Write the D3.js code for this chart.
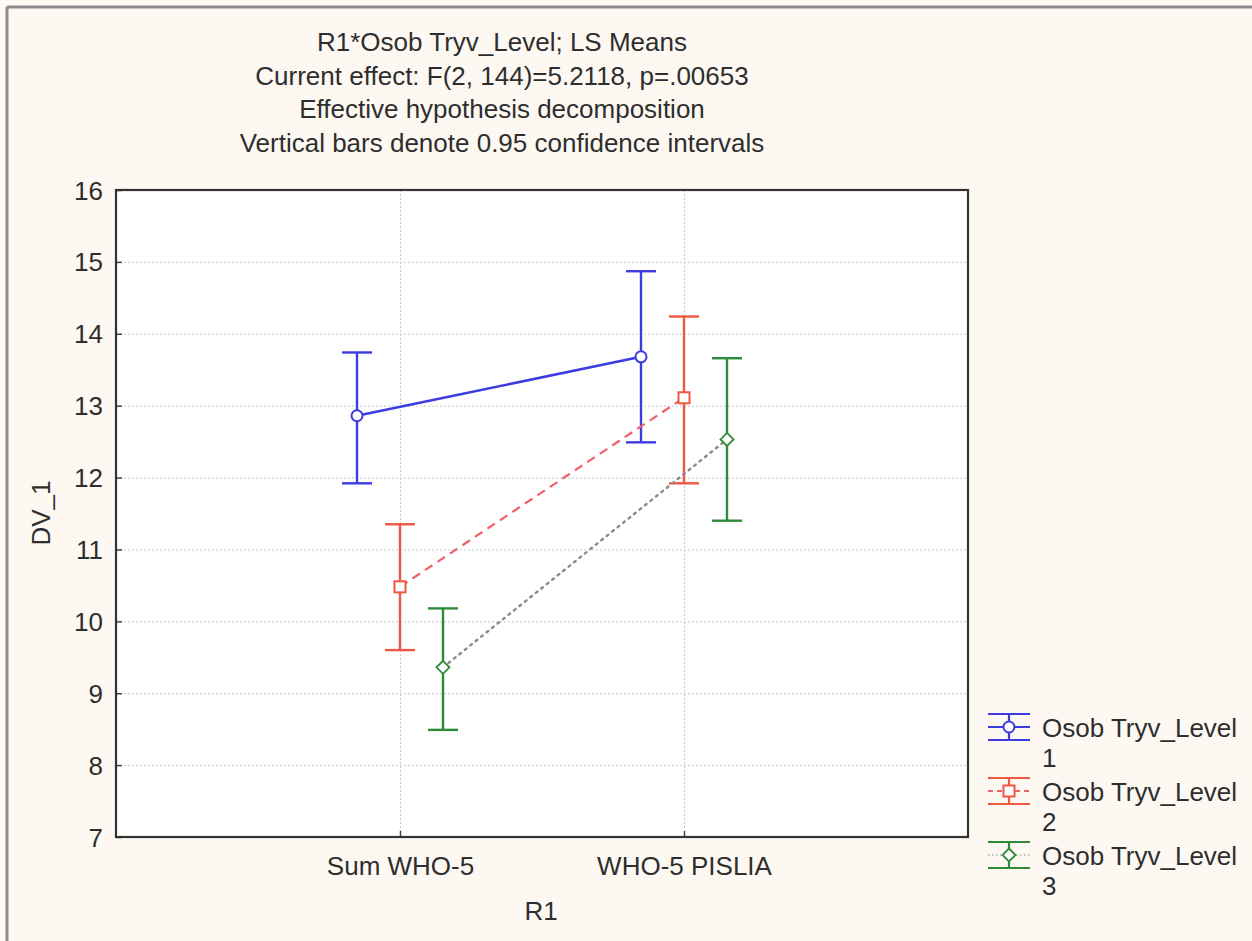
<!DOCTYPE html>
<html>
<head>
<meta charset="utf-8">
<script src="https://cdn.jsdelivr.net/npm/d3@7"></script>
<style>
  html, body { margin: 0; padding: 0; background: #fdf9f2; }
  svg { display: block; }
  text { font-family: "Liberation Sans", Arial, sans-serif; fill: #2e2e2e; }
</style>
</head>
<body>
<svg id="chart" width="1252" height="941"></svg>
<script>
// Within-subject factor levels (x axis)
const categories = ["Sum WHO-5", "WHO-5 PISLIA"];
// Between-group levels
const groups = ["Osob Tryv_Level 1", "Osob Tryv_Level 2", "Osob Tryv_Level 3"];
// LS means per group, one value per category
const meanLevel1 = [12.86, 13.68];
const meanLevel2 = [10.48, 13.11];
const meanLevel3 = [9.36, 12.53];
// 0.95 confidence interval bounds
const lowerLevel1 = [11.92, 12.49];
const upperLevel1 = [13.74, 14.87];
const lowerLevel2 = [9.60, 11.92];
const upperLevel2 = [11.35, 14.24];
const lowerLevel3 = [8.49, 11.40];
const upperLevel3 = [10.18, 13.66];
const yTicks = [7, 8, 9, 10, 11, 12, 13, 14, 15, 16];
const titleLines = [
  "R1*Osob Tryv_Level; LS Means",
  "Current effect: F(2, 144)=5.2118, p=.00653",
  "Effective hypothesis decomposition",
  "Vertical bars denote 0.95 confidence intervals"
];

const series = [
  { name: groups[0], mean: meanLevel1, lo: lowerLevel1, hi: upperLevel1,
    color: "#3c3ce0", lineColor: "#3c3ce0", dash: null, lineWidth: 2.5, marker: "circle" },
  { name: groups[1], mean: meanLevel2, lo: lowerLevel2, hi: upperLevel2,
    color: "#ee5842", lineColor: "#f0606a", dash: "9,6", lineWidth: 2.2, marker: "square" },
  { name: groups[2], mean: meanLevel3, lo: lowerLevel3, hi: upperLevel3,
    color: "#2f8a3a", lineColor: "#8a8a8a", dash: "2,5", lineWidth: 2.4, marker: "diamond" }
];

const svg = d3.select("#chart");
const plot = { left: 116, right: 968, top: 190, bottom: 837 };

// Outer frame of the graph window (top and left edges)
svg.append("line").attr("x1", 7).attr("x2", 1252).attr("y1", 7).attr("y2", 7)
  .attr("stroke", "#8c8c8c").attr("stroke-width", 3);
svg.append("line").attr("x1", 7).attr("x2", 7).attr("y1", 7).attr("y2", 941)
  .attr("stroke", "#8c8c8c").attr("stroke-width", 3);

// Title block
svg.append("g").selectAll("text").data(titleLines).join("text")
  .attr("x", 502).attr("y", (d, i) => 51 + i * 33.5)
  .attr("text-anchor", "middle").attr("font-size", 26)
  .text(d => d);

const x = d3.scalePoint().domain(categories).range([plot.left, plot.right]).padding(1);
const offset = d3.scalePoint().domain(groups).range([-43, 43]);
const y = d3.scaleLinear().domain([7, 16]).range([plot.bottom, plot.top]);

// Plot area
svg.append("rect")
  .attr("x", plot.left).attr("y", plot.top)
  .attr("width", plot.right - plot.left).attr("height", plot.bottom - plot.top)
  .attr("fill", "#ffffff");

// Dotted grid
const grid = svg.append("g").attr("stroke", "#c9c9c9").attr("stroke-width", 1)
  .attr("stroke-dasharray", "2,2");
grid.selectAll(".gy").data(yTicks.slice(1, -1)).join("line")
  .attr("x1", plot.left).attr("x2", plot.right)
  .attr("y1", d => y(d) + 0.5).attr("y2", d => y(d) + 0.5);
grid.selectAll(".gx").data(categories).join("line")
  .attr("y1", plot.top).attr("y2", plot.bottom)
  .attr("x1", d => x(d) + 0.5).attr("x2", d => x(d) + 0.5);

// Axes
const yAxis = svg.append("g").attr("transform", `translate(${plot.left},0)`)
  .call(d3.axisLeft(y).tickValues(yTicks).tickFormat(d3.format("d"))
    .tickSize(-6).tickPadding(13));
yAxis.select(".domain").remove();
yAxis.selectAll(".tick line").attr("stroke", "#444").attr("stroke-width", 1.5);
yAxis.selectAll(".tick text").attr("font-size", 26).attr("dy", "0.35em")
  .attr("font-family", "Liberation Sans, Arial, sans-serif").attr("fill", "#2e2e2e");

const xAxis = svg.append("g").attr("transform", `translate(0,${plot.bottom})`)
  .call(d3.axisBottom(x).tickSize(-6).tickPadding(19));
xAxis.select(".domain").remove();
xAxis.selectAll(".tick line").attr("stroke", "#444").attr("stroke-width", 1.5);
xAxis.selectAll(".tick text").attr("font-size", 26).attr("dy", 0).attr("y", 38)
  .attr("font-family", "Liberation Sans, Arial, sans-serif").attr("fill", "#2e2e2e");

// Plot frame
svg.append("rect")
  .attr("x", plot.left).attr("y", plot.top)
  .attr("width", plot.right - plot.left).attr("height", plot.bottom - plot.top)
  .attr("fill", "none").attr("stroke", "#333").attr("stroke-width", 2.2);

// Axis titles
svg.append("text").attr("x", 541).attr("y", 920).attr("text-anchor", "middle")
  .attr("font-size", 26).text("R1");
svg.append("text").attr("transform", "translate(50,513) rotate(-90)")
  .attr("text-anchor", "middle").attr("font-size", 26).text("DV_1");

function drawMarker(g, type, cx, cy, color) {
  if (type === "circle") {
    g.append("circle").attr("cx", cx).attr("cy", cy).attr("r", 5.5)
      .attr("fill", "#fff").attr("stroke", color).attr("stroke-width", 2);
  } else if (type === "square") {
    g.append("rect").attr("x", cx - 5.5).attr("y", cy - 5.5).attr("width", 11).attr("height", 11)
      .attr("fill", "#fff").attr("stroke", color).attr("stroke-width", 2);
  } else {
    const s = 6.5;
    g.append("path").attr("d", `M${cx},${cy - s}L${cx + s},${cy}L${cx},${cy + s}L${cx - s},${cy}Z`)
      .attr("fill", "#fff").attr("stroke", color).attr("stroke-width", 1.8);
  }
}

const capHalf = 15;
series.forEach(s => {
  const g = svg.append("g");
  const px = i => x(categories[i]) + offset(s.name);
  // Connecting line between categories
  g.append("path")
    .attr("d", d3.line().x((d, i) => px(i)).y(d => y(d))(s.mean))
    .attr("fill", "none").attr("stroke", s.lineColor).attr("stroke-width", s.lineWidth)
    .attr("stroke-dasharray", s.dash)
    .attr("stroke-linecap", s.dash === "2,5" ? "round" : "butt");
  // Confidence interval whiskers
  s.mean.forEach((m, i) => {
    const cx = px(i);
    g.append("line").attr("x1", cx).attr("x2", cx).attr("y1", y(s.lo[i])).attr("y2", y(s.hi[i]))
      .attr("stroke", s.color).attr("stroke-width", 2.4);
    [s.lo[i], s.hi[i]].forEach(v => {
      g.append("line").attr("x1", cx - capHalf).attr("x2", cx + capHalf)
        .attr("y1", y(v)).attr("y2", y(v))
        .attr("stroke", s.color).attr("stroke-width", 2.4);
    });
    drawMarker(g, s.marker, cx, y(m), s.color);
  });
});

// Legend
const legend = svg.append("g");
series.forEach((s, k) => {
  const cy = 727 + k * 64, cx = 1009;
  const g = legend.append("g");
  g.append("line").attr("x1", cx - 21).attr("x2", cx + 21).attr("y1", cy).attr("y2", cy)
    .attr("stroke", s.lineColor).attr("stroke-width", s.dash === "2,5" ? 1.2 : 1.8)
    .attr("stroke-dasharray", s.dash ? (s.dash === "2,5" ? "1.5,2.5" : "5,4") : null);
  g.append("line").attr("x1", cx).attr("x2", cx).attr("y1", cy - 13).attr("y2", cy + 13)
    .attr("stroke", s.color).attr("stroke-width", 2.2);
  [cy - 13, cy + 13].forEach(yy => {
    g.append("line").attr("x1", cx - 21).attr("x2", cx + 21).attr("y1", yy).attr("y2", yy)
      .attr("stroke", s.color).attr("stroke-width", 2.2);
  });
  drawMarker(g, s.marker, cx, cy, s.color);
  const parts = s.name.split(/ (?=\d+$)/);
  g.append("text").attr("x", 1042).attr("y", cy + 10).attr("font-size", 26).text(parts[0]);
  g.append("text").attr("x", 1042).attr("y", cy + 40).attr("font-size", 26).text(parts[1]);
});
</script>
</body>
</html>
